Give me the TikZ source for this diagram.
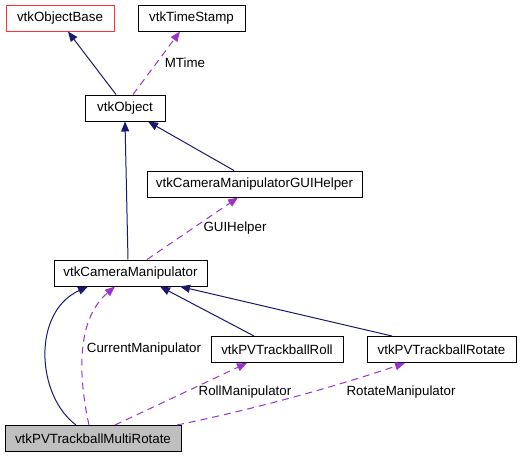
\documentclass[tikz,border=0pt]{standalone}
\usepackage{fontspec}
\setmainfont{Liberation Sans}
\usetikzlibrary{arrows.meta,calc}
\definecolor{edgeblue}{HTML}{191970}
\definecolor{edgepurple}{HTML}{9A32CD}
\definecolor{boxred}{HTML}{FF3333}
\definecolor{boxgray}{HTML}{BFBFBF}
\begin{document}
\begin{tikzpicture}[x=0.75pt,y=-0.75pt,
  cls/.style={draw=black, line width=0.75pt, fill=white, inner sep=0pt, minimum height=19.5pt, font=\fontsize{10}{12}\selectfont},
  inherit/.style={draw=edgeblue, line width=0.75pt, -{Triangle[length=7.5pt,width=6pt]}},
  usage/.style={draw=edgepurple, line width=0.75pt, dash pattern=on 5.25pt off 3.75pt, -{Triangle[length=7.5pt,width=6pt]}},
  lbl/.style={font=\fontsize{10}{12}\selectfont, inner sep=0pt}]
\useasboundingbox (0,0) rectangle (521,457);
\node[cls, draw=boxred, minimum width=81pt] (base) at (60,18) {vtkObjectBase};
\node[cls, minimum width=80.25pt] (ts) at (191.5,18) {vtkTimeStamp};
\node[cls, minimum width=60pt] (obj) at (125,108) {vtkObject};
\node[cls, minimum width=161.25pt] (gui) at (254.5,184) {vtkCameraManipulatorGUIHelper};
\node[cls, minimum width=114.75pt] (cam) at (130.5,273) {vtkCameraManipulator};
\node[cls, minimum width=99pt] (roll) at (277,349.5) {vtkPVTrackballRoll};
\node[cls, minimum width=111.75pt] (rot) at (441.5,349.5) {vtkPVTrackballRotate};
\node[cls, fill=boxgray, minimum width=132pt] (multi) at (93,438.5) {vtkPVTrackballMultiRotate};

\draw[inherit] ($(obj.north)+(-9,0)$) -- ($(base.south)+(8,0)$);
\draw[usage] ($(obj.north)+(8,0)$) -- ($(ts.south)+(-11.5,0)$);
\node[lbl] (lmtime) at (185,63) {MTime};
\draw[inherit] ($(cam.north)+(-2.5,0)$) -- ($(obj.south)+(0,0)$);
\draw[inherit] ($(gui.north)+(-20.5,0)$) -- ($(obj.south)+(23,0)$);
\draw[usage] ($(cam.north)+(16.5,0)$) -- ($(gui.south)+(-16.5,0)$);
\node[lbl] (lgui) at (235,228) {GUIHelper};
\draw[inherit] ($(multi.north)+(-17,0)$) .. controls (36,395) and (32,312) .. ($(cam.south)+(-42.5,0)$);
\draw[usage] ($(multi.north)+(-4,0)$) .. controls (77,370) and (78,318) .. ($(cam.south)+(-15.5,0)$);
\node[lbl] (lcur) at (144,349) {CurrentManipulator};
\draw[inherit] ($(roll.north)+(-23,0)$) -- ($(cam.south)+(29.5,0)$);
\draw[inherit] ($(rot.north)+(-49.5,0)$) -- ($(cam.south)+(49.5,0)$);
\draw[usage] ($(multi.north)+(22,0)$) -- ($(roll.south)+(-30,0)$);
\node[lbl] (lroll) at (245,392) {RollManipulator};
\draw[usage] ($(multi.north)+(84,0)$) .. controls (260,408) and (340,385) .. ($(rot.south)+(-36.5,0)$);
\node[lbl] (lrot) at (401,392) {RotateManipulator};
\end{tikzpicture}
\end{document}
